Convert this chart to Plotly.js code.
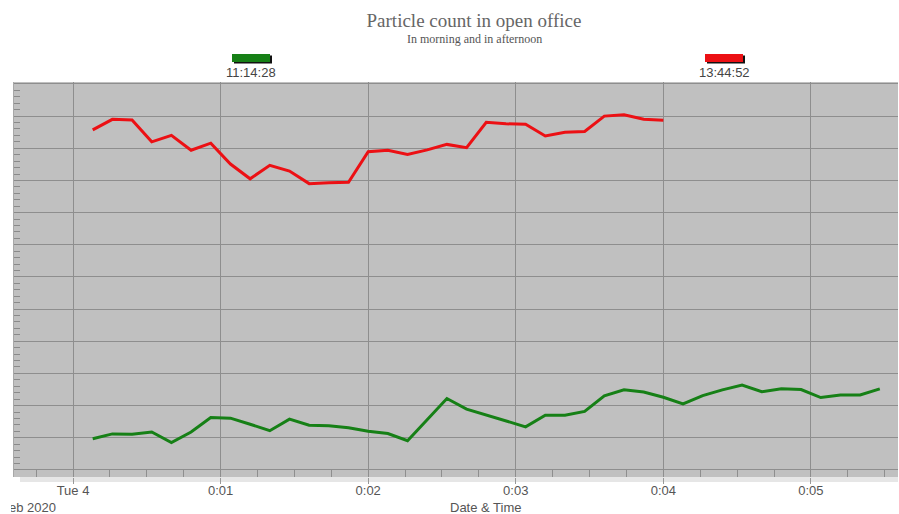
<!DOCTYPE html>
<html>
<head>
<meta charset="utf-8">
<script src="https://cdn.plot.ly/plotly-3.0.1.min.js"></script>
<style>
  html, body { margin: 0; padding: 0; background: #ffffff; }
  #chart { width: 899px; height: 514px; position: relative; }
  #edge { position: absolute; left: 0; top: 496px; width: 11px; height: 18px; background: #ffffff; }
</style>
</head>
<body>
<div id="chart"></div>
<div id="edge"></div>
<script>
// ---- data ----
const DAY = '2020-02-04';
const times = [
  '00:00:08','00:00:16','00:00:24','00:00:32','00:00:40','00:00:48','00:00:56',
  '00:01:04','00:01:12','00:01:20','00:01:28','00:01:36','00:01:44','00:01:52',
  '00:02:00','00:02:08','00:02:16','00:02:24','00:02:32','00:02:40','00:02:48','00:02:56',
  '00:03:04','00:03:12','00:03:20','00:03:28','00:03:36','00:03:44','00:03:52',
  '00:04:00','00:04:08','00:04:16','00:04:24','00:04:32','00:04:40','00:04:48','00:04:56',
  '00:05:04','00:05:12','00:05:20','00:05:28'
];
const seriesNames = ['11:14:28', '13:44:52'];
const seriesColors = ['rgb(22,128,22)', 'rgb(236,16,20)'];
// morning (green)
const morning = [
  0.97, 1.12, 1.11, 1.18, 0.85, 1.18, 1.63, 1.61, 1.42, 1.22,
  1.58, 1.39, 1.37, 1.31, 1.20, 1.13, 0.91, 1.55, 2.22, 1.89,
  1.70, 1.52, 1.34, 1.70, 1.70, 1.82, 2.30, 2.49, 2.42, 2.26,
  2.05, 2.31, 2.49, 2.64, 2.43, 2.52, 2.50, 2.25, 2.33, 2.33, 2.52
];
// afternoon (red)
const afternoon = [
  10.57, 10.90, 10.88, 10.20, 10.40, 9.94, 10.16, 9.51, 9.05, 9.47,
  9.29, 8.90, 8.93, 8.94, 9.89, 9.94, 9.81, 9.95, 10.12, 10.02,
  10.81, 10.76, 10.75, 10.38, 10.50, 10.52, 11.00, 11.04, 10.90, 10.87
];
const tickTimes = ['00:00:00','00:01:00','00:02:00','00:03:00','00:04:00','00:05:00'];
const tickLabels = ['Tue 4', '0:01', '0:02', '0:03', '0:04', '0:05'];
const xRange = ['2020-02-03 23:59:36', '2020-02-04 00:05:35.4'];
const yRange = [-0.22, 12.06];

// ---- build ----
const full = t => DAY + ' ' + t;
const traces = [
  { x: times.slice(0, morning.length).map(full), y: morning, name: seriesNames[0],
    type: 'scatter', mode: 'lines', line: { color: seriesColors[0], width: 3 } },
  { x: times.slice(0, afternoon.length).map(full), y: afternoon, name: seriesNames[1],
    type: 'scatter', mode: 'lines', line: { color: seriesColors[1], width: 3 } }
];

const L = 14, R = 898, T = 82, B = 477;
const W = R - L, H = B - T;
const px = v => (v - L) / W;
const py = v => (B - v) / H;

const sans = 'Liberation Sans, Arial, sans-serif';
const serif = 'Liberation Serif, Times New Roman, serif';

const swatches = [
  { x0: 232, x1: 270, cx: 251 },
  { x0: 705, x1: 743, cx: 724 }
];
const shapes = [];
const annotations = [];
swatches.forEach((s, i) => {
  shapes.push({ type: 'rect', xref: 'paper', yref: 'paper', layer: 'above',
    x0: px(s.x0 + 2), x1: px(s.x1 + 2), y0: py(63.5), y1: py(55.5),
    fillcolor: '#111', line: { width: 0 } });
  shapes.push({ type: 'rect', xref: 'paper', yref: 'paper', layer: 'above',
    x0: px(s.x0), x1: px(s.x1), y0: py(62), y1: py(54),
    fillcolor: seriesColors[i], line: { width: 0 } });
  annotations.push({ text: seriesNames[i], xref: 'paper', yref: 'paper',
    x: px(s.cx), y: py(72), xanchor: 'center', yanchor: 'middle', showarrow: false,
    font: { family: sans, size: 13, color: '#444' } });
});
// shadow strip under plot
shapes.push({ type: 'rect', xref: 'paper', yref: 'paper', layer: 'below',
  x0: px(20), x1: 1, y0: py(482), y1: py(477), fillcolor: '#e6e6e6', line: { width: 0 } });

annotations.push({ text: 'In morning and in afternoon', xref: 'paper', yref: 'paper',
  x: px(474), y: py(38.5), xanchor: 'center', yanchor: 'middle', showarrow: false,
  font: { family: serif, size: 12, color: '#555' } });
annotations.push({ text: 'Date & Time', xref: 'paper', yref: 'paper',
  x: px(486), y: py(507.5), xanchor: 'center', yanchor: 'middle', showarrow: false,
  font: { family: sans, size: 13, color: '#555' } });
annotations.push({ text: 'Feb 2020', xref: 'paper', yref: 'paper',
  x: px(58), y: py(507.5), xanchor: 'right', yanchor: 'middle', showarrow: false,
  font: { family: sans, size: 13, color: '#555' } });

const layout = {
  width: 899, height: 514,
  margin: { l: L, r: 899 - R, t: T, b: 514 - B, pad: 0 },
  paper_bgcolor: '#ffffff',
  plot_bgcolor: '#c0c0c0',
  showlegend: false,
  hovermode: false,
  title: { text: 'Particle count in open office', x: 474 / 899, xref: 'container',
    y: 1 - 20 / 514, yanchor: 'middle', xanchor: 'center',
    font: { family: serif, size: 19, color: '#666' } },
  xaxis: {
    type: 'date', range: xRange,
    tickmode: 'array', tickvals: tickTimes.map(full), ticktext: tickLabels,
    ticks: 'outside', ticklen: 6, tickcolor: '#999',
    ticklabelstandoff: -5,
    showgrid: true, gridcolor: '#8e8e8e', gridwidth: 1,
    zeroline: false, showline: false,
    tickfont: { family: sans, size: 13, color: '#555' },
    minor: { dtick: 15000, tick0: full('00:00:00'), ticks: 'inside', ticklen: 7,
      tickcolor: '#8e8e8e', showgrid: false }
  },
  yaxis: {
    range: yRange, tickmode: 'linear', tick0: 0, dtick: 1,
    showticklabels: false,
    ticks: 'inside', ticklen: 6, tickcolor: '#8a8a8a',
    showgrid: true, gridcolor: '#8e8e8e', gridwidth: 1,
    zeroline: false, showline: true, linecolor: '#a8a8a8', linewidth: 1,
    minor: { dtick: 0.2, ticks: 'inside', ticklen: 6, tickcolor: '#8a8a8a', showgrid: false }
  },
  shapes: shapes,
  annotations: annotations
};

Plotly.newPlot('chart', traces, layout, { displayModeBar: false, staticPlot: true });
</script>
</body>
</html>
